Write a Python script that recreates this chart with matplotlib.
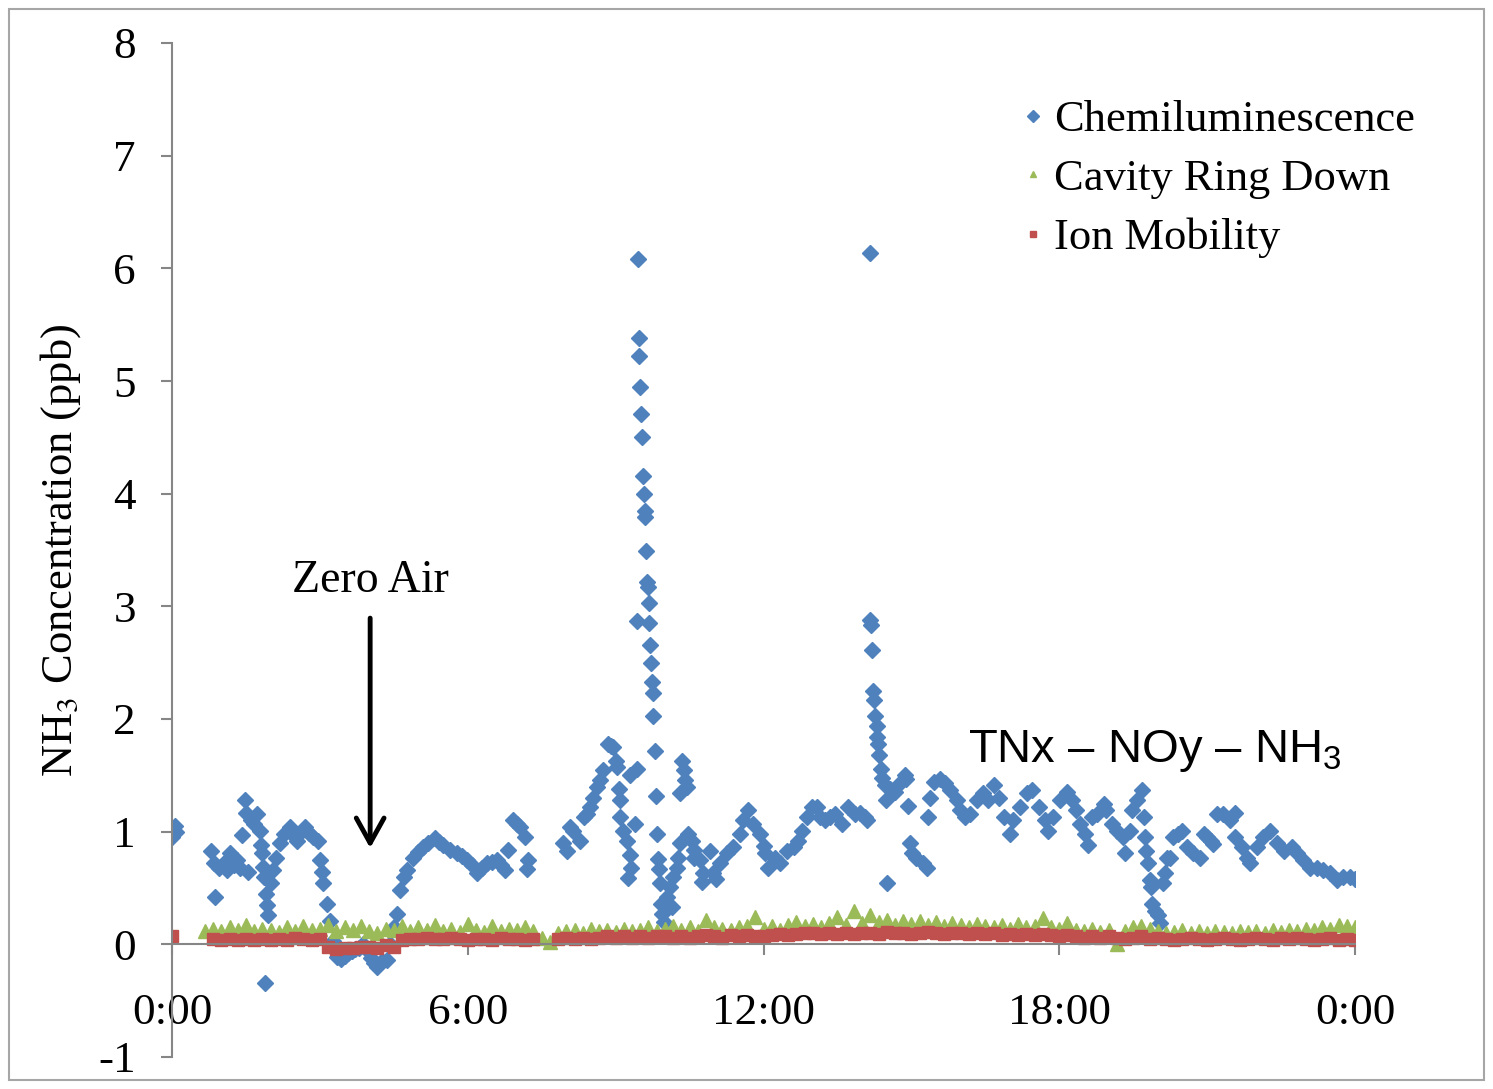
import numpy as np
import matplotlib
matplotlib.use("Agg")
import matplotlib.pyplot as plt
from matplotlib.lines import Line2D
from matplotlib.patches import Rectangle

plt.rcParams['font.family'] = ['Liberation Serif', 'DejaVu Serif']
plt.rcParams['axes.unicode_minus'] = False
plt.rcParams['mathtext.rm'] = 'Liberation Sans'

# Chemiluminescence (hours, ppb)
chem_hours = [0.00, 0.03, 0.06, 0.09,
              0.80, 0.85, 0.87, 0.95, 1.05, 1.12, 1.18, 1.25, 1.32, 1.38, 1.42, 1.48, 1.50, 1.54,
              1.60, 1.66, 1.72, 1.78, 1.80, 1.83, 1.85, 1.87, 1.89, 1.90, 1.92, 1.94,
              2.00, 2.05, 2.12, 2.19, 2.28, 2.39, 2.46, 2.53, 2.62, 2.70, 2.78, 2.86, 2.96,
              3.00, 3.04, 3.07, 3.14, 3.21, 3.27, 3.35, 3.43, 3.51, 3.58, 3.65, 3.72, 3.80, 3.88, 3.96,
              4.04, 4.10, 4.16, 4.26, 4.36, 4.42, 4.50, 4.56, 4.62, 4.70, 4.77, 4.89,
              5.00, 5.09, 5.20, 5.34, 5.42, 5.50, 5.64, 5.78, 5.88, 5.98,
              6.08, 6.18, 6.28, 6.39, 6.50, 6.60, 6.68, 6.76, 6.82, 6.92,
              7.00, 7.06, 7.16, 7.20, 7.23,
              7.94, 8.01, 8.08, 8.14, 8.28, 8.35, 8.42, 8.48, 8.55, 8.62, 8.68, 8.75, 8.85, 8.90, 8.95,
              9.00, 9.03, 9.06, 9.08, 9.09, 9.15, 9.23, 9.26, 9.29, 9.31, 9.30, 9.40, 9.43, 9.43,
              9.46, 9.47, 9.48, 9.50, 9.52, 9.54, 9.56, 9.58, 9.59, 9.60, 9.62, 9.64, 9.65, 9.67,
              9.68, 9.70, 9.72, 9.73, 9.75, 9.76, 9.80, 9.82, 9.84, 9.86, 9.88, 9.90, 9.92, 9.95, 9.98,
              10.04, 10.10, 10.14, 10.17, 10.24, 10.27, 10.31, 10.35, 10.38, 10.41, 10.45, 10.30,
              10.47, 10.55, 10.60, 10.58, 10.71, 10.78, 10.76, 10.92, 10.98,
              11.03, 11.12, 11.26, 11.38, 11.53, 11.59, 11.69, 11.79, 11.93,
              12.00, 12.03, 12.10, 12.24, 12.34, 12.48, 12.61, 12.71, 12.78, 12.88, 12.99,
              13.08, 13.15, 13.25, 13.35, 13.45, 13.60, 13.72, 13.86, 13.96,
              14.06, 14.10, 14.16, 14.17, 14.18, 14.20, 14.22, 14.24, 14.26, 14.30, 14.31, 14.32,
              14.35, 14.38, 14.41, 14.47, 14.48, 14.50, 14.57, 14.67, 14.77, 14.87, 14.90, 14.94, 14.98,
              15.02, 15.10, 15.24, 15.31, 15.34, 15.38, 15.45, 15.59, 15.69, 15.79, 15.93, 15.99,
              16.09, 16.19, 16.33, 16.46, 16.56, 16.67, 16.77, 16.87,
              17.00, 17.07, 17.20, 17.34, 17.45, 17.58, 17.71, 17.78, 17.88,
              18.02, 18.15, 18.26, 18.33, 18.43, 18.53, 18.59, 18.66, 18.77, 18.90, 18.95,
              19.07, 19.17, 19.30, 19.34, 19.44, 19.48, 19.58, 19.68, 19.71, 19.74, 19.77, 19.81,
              19.85, 19.87, 19.89, 19.95,
              20.01, 20.05, 20.11, 20.15, 20.19, 20.25, 20.31, 20.40, 20.49, 20.60, 20.72, 20.86, 20.93,
              21.00, 21.07, 21.12, 21.20, 21.33, 21.47, 21.57, 21.57, 21.71, 21.81, 21.87,
              22.02, 22.14, 22.28, 22.42, 22.55, 22.72, 22.83, 22.95,
              23.09, 23.23, 23.36, 23.50, 23.64, 23.76, 23.90, 24.00]
chem_ppb = [0.95, 1.02, 1.05, 1.00,
            0.83, 0.72, 0.42, 0.68, 0.72, 0.66, 0.81, 0.70, 0.75, 0.68, 0.97, 1.28, 1.17, 0.64,
            1.10, 1.07, 1.16, 1.01, 0.88, 0.81, 0.69, 0.60, -0.34, 0.45, 0.35, 0.26,
            0.54, 0.66, 0.77, 0.90, 0.98, 1.04, 0.97, 0.92, 1.00, 1.04, 0.99, 0.95, 0.92,
            0.75, 0.64, 0.54, 0.36, 0.21, 0.03, -0.11, -0.13, -0.10, -0.08, -0.06, -0.04, -0.03, 0.00, -0.05,
            -0.12, -0.17, -0.20, -0.15, -0.14, 0.00, 0.15, 0.27, 0.48, 0.60, 0.66, 0.77,
            0.82, 0.86, 0.90, 0.94, 0.91, 0.88, 0.84, 0.81, 0.78, 0.75,
            0.70, 0.63, 0.68, 0.72, 0.73, 0.75, 0.70, 0.66, 0.84, 1.10,
            1.07, 1.04, 0.95, 0.67, 0.75,
            0.90, 0.83, 1.04, 1.01, 0.92, 1.13, 1.16, 1.22, 1.30, 1.40, 1.46, 1.55, 1.78, 1.76, 1.75,
            1.63, 1.57, 1.38, 1.28, 1.13, 1.01, 0.92, 0.59, 0.79, 0.68, 1.50, 1.07, 1.56, 2.87,
            6.08, 5.38, 5.22, 4.95, 4.71, 4.50, 4.16, 4.00, 3.85, 3.79, 3.49, 3.22, 3.17, 3.03,
            2.85, 2.66, 2.50, 2.33, 2.23, 2.03, 1.72, 1.32, 0.98, 0.76, 0.67, 0.54, 0.36, 0.27, 0.20,
            0.42, 0.51, 0.33, 0.60, 0.68, 0.77, 0.90, 1.63, 1.55, 1.46, 1.40, 1.34,
            0.98, 0.92, 0.84, 0.77, 0.75, 0.63, 0.55, 0.83, 0.63,
            0.58, 0.72, 0.81, 0.86, 0.98, 1.10, 1.19, 1.07, 0.98,
            0.87, 0.81, 0.68, 0.77, 0.72, 0.83, 0.86, 0.92, 1.01, 1.13, 1.22,
            1.22, 1.13, 1.10, 1.13, 1.16, 1.07, 1.22, 1.16, 1.17,
            1.13, 1.10, 6.14, 2.88, 2.83, 2.61, 2.25, 2.17, 2.03, 1.94, 1.84, 1.78,
            1.68, 1.56, 1.48, 1.41, 1.28, 0.54, 1.38, 1.35, 1.43, 1.50, 1.47, 1.23, 0.90,
            0.81, 0.77, 0.72, 0.68, 1.13, 1.30, 1.44, 1.47, 1.43, 1.37, 1.28, 1.19,
            1.13, 1.16, 1.28, 1.34, 1.28, 1.41, 1.30, 1.13,
            0.98, 1.10, 1.22, 1.34, 1.37, 1.22, 1.10, 1.01, 1.13,
            1.28, 1.35, 1.28, 1.19, 1.07, 0.98, 0.88, 1.13, 1.16, 1.25, 1.19,
            1.07, 1.01, 0.95, 0.81, 1.01, 1.19, 1.28, 1.37, 1.13, 0.95, 0.83, 0.72,
            0.57, 0.51, 0.36, 0.30,
            0.26, 0.19, 0.54, 0.63, 0.77, 0.77, 0.95, 0.98, 1.01, 0.86, 0.81, 0.77, 0.98,
            0.95, 0.92, 0.89, 1.16, 1.16, 1.10, 1.17, 0.95, 0.86, 0.77, 0.72,
            0.86, 0.95, 1.01, 0.90, 0.83, 0.86, 0.81, 0.75,
            0.68, 0.68, 0.66, 0.63, 0.57, 0.60, 0.60, 0.58]

# Cavity Ring Down and Ion Mobility, one value every 10 minutes (nan = no data)
grid_minutes = np.arange(0, 1441, 10)
nan = np.nan
crd_ppb = [nan, nan, nan, nan, 0.12, 0.14,      # 0h
           0.12, 0.15, 0.13, 0.17, 0.12, 0.14,  # 1h
           0.13, 0.11, 0.15, 0.12, 0.16, 0.13,  # 2h
           0.14, 0.17, 0.12, 0.15, 0.13, 0.16,  # 3h
           0.12, 0.10, 0.14, 0.13, 0.16, 0.12,  # 4h
           0.15, 0.13, 0.17, 0.12, 0.14, 0.11,  # 5h
           0.18, 0.13, 0.11, 0.16, 0.12, 0.14,  # 6h
           0.13, 0.15, 0.12, 0.06, 0.02, 0.10,  # 7h
           0.12, 0.13, 0.10, 0.14, 0.12, 0.13,  # 8h
           0.11, 0.14, 0.12, 0.13, 0.15, 0.12,  # 9h
           0.14, 0.16, 0.13, 0.15, 0.12, 0.22,  # 10h
           0.15, 0.14, 0.13, 0.15, 0.16, 0.24,  # 11h
           0.14, 0.16, 0.13, 0.17, 0.20, 0.16,  # 12h
           0.18, 0.15, 0.19, 0.24, 0.17, 0.30,  # 13h
           0.19, 0.26, 0.20, 0.22, 0.17, 0.21,  # 14h
           0.18, 0.21, 0.17, 0.20, 0.16, 0.19,  # 15h
           0.17, 0.15, 0.18, 0.16, 0.15, 0.17,  # 16h
           0.14, 0.18, 0.15, 0.16, 0.23, 0.15,  # 17h
           0.14, 0.19, 0.13, 0.12, 0.14, 0.11,  # 18h
           0.13, 0.00, 0.12, 0.15, 0.16, 0.14,  # 19h
           0.12, 0.10, 0.11, 0.13, 0.10, 0.12,  # 20h
           0.10, 0.12, 0.11, 0.10, 0.12, 0.11,  # 21h
           0.12, 0.10, 0.13, 0.11, 0.13, 0.12,  # 22h
           0.14, 0.13, 0.15, 0.14, 0.17, 0.16,  # 23h
           0.15]
ims_ppb = [0.07, nan, nan, nan, nan, 0.05,      # 0h
           0.04, 0.05, 0.04, 0.05, 0.04, 0.05,  # 1h
           0.04, 0.05, 0.04, 0.06, 0.05, 0.04,  # 2h
           0.05, -0.02, -0.04, -0.03, -0.03, -0.02,  # 3h
           -0.02, -0.03, -0.01, -0.02, 0.04, 0.05,   # 4h
           0.05, 0.06, 0.05, 0.05, 0.06, 0.05,  # 5h
           0.04, 0.05, 0.05, 0.04, 0.06, 0.05,  # 6h
           0.05, 0.04, 0.05, nan, nan, 0.05,    # 7h
           0.06, 0.05, 0.06, 0.05, 0.06, 0.07,  # 8h
           0.06, 0.07, 0.06, 0.07, 0.06, 0.07,  # 9h
           0.07, 0.06, 0.07, 0.06, 0.07, 0.08,  # 10h
           0.07, 0.06, 0.08, 0.07, 0.08, 0.07,  # 11h
           0.07, 0.08, 0.09, 0.08, 0.09, 0.10,  # 12h
           0.10, 0.09, 0.10, 0.09, 0.10, 0.09,  # 13h
           0.10, 0.10, 0.09, 0.11, 0.10, 0.10,  # 14h
           0.09, 0.10, 0.11, 0.10, 0.09, 0.10,  # 15h
           0.10, 0.09, 0.10, 0.09, 0.10, 0.08,  # 16h
           0.09, 0.08, 0.09, 0.08, 0.09, 0.08,  # 17h
           0.07, 0.08, 0.07, 0.06, 0.07, 0.06,  # 18h
           0.07, 0.06, 0.05, 0.06, 0.07, 0.05,  # 19h
           0.06, 0.05, 0.04, 0.05, 0.06, 0.05,  # 20h
           0.04, 0.05, 0.06, 0.05, 0.04, 0.05,  # 21h
           0.06, 0.05, 0.04, 0.06, 0.05, 0.06,  # 22h
           0.05, 0.04, 0.05, 0.06, 0.04, 0.05,  # 23h
           0.04]

tick_hours = [0, 6, 12, 18, 24]
tick_labels = ['0:00', '6:00', '12:00', '18:00', '0:00']
series_names = ['Chemiluminescence', 'Cavity Ring Down', 'Ion Mobility']

blue, green, red = '#4F81BD', '#9BBB59', '#C0504D'
gray = '#868686'

fig = plt.figure(figsize=(14.93, 10.89), dpi=100)
ax = fig.add_axes([172 / 1493, 32 / 1089, 1183 / 1493, 1014 / 1089])

grid_hours = grid_minutes / 60.0
ax.plot(chem_hours, chem_ppb, ls='none', marker='D', ms=8, color=blue, mec=blue)
ax.plot(grid_hours, crd_ppb, ls='none', marker='^', ms=10, color=green, mec=green)
ax.plot(grid_hours, ims_ppb, ls='none', marker='s', ms=8, color=red, mec=red)

ax.set_xlim(0, 24)
ax.set_ylim(-1, 8)
ax.set_xticks(tick_hours)
ax.set_xticklabels(tick_labels)
ax.set_yticks(range(-1, 9))

for s in ['top', 'right']:
    ax.spines[s].set_visible(False)
ax.spines['bottom'].set_position(('data', 0))
for s in ['left', 'bottom']:
    ax.spines[s].set_color(gray)
    ax.spines[s].set_linewidth(1.5)
ax.tick_params(axis='both', colors=gray, labelcolor='black', labelsize=32.5, width=1.5, length=8)
ax.tick_params(axis='x', direction='out', pad=27)
ax.tick_params(axis='y', direction='out', pad=18)

ax.set_ylabel('NH$_3$ Concentration (ppb)', fontsize=32, math_fontfamily='stix')
ax.yaxis.set_label_coords(-0.075, 0.5)

ax.text(4.02, 3.23, 'Zero Air', fontsize=33, ha='center', va='center')
ax.annotate('', xy=(4.02, 0.83), xytext=(4.02, 2.92),
            arrowprops=dict(arrowstyle='->, head_length=0.9, head_width=0.5',
                            lw=3.5, color='black', mutation_scale=20))
ax.text(16.15, 1.72, r'TNx – NOy – NH$_\mathrm{3}$', fontsize=34, family='Liberation Sans',
        math_fontfamily='custom', ha='left', va='center')

handles = [Line2D([], [], ls='none', marker='D', ms=6, color=blue),
           Line2D([], [], ls='none', marker='^', ms=4, color=green),
           Line2D([], [], ls='none', marker='s', ms=4.5, color=red)]
ax.legend(handles, series_names, loc='upper left', bbox_to_anchor=(1022 / 1493, 1 - 100 / 1089),
          bbox_transform=fig.transFigure, frameon=False, fontsize=32,
          handlelength=0.5, handletextpad=0.23, labelspacing=0.42, borderpad=0, borderaxespad=0)

fig.add_artist(Rectangle((9 / 1493, 9 / 1089), 1475 / 1493, 1071 / 1089, transform=fig.transFigure,
                         fill=False, ec='#A6A6A6', lw=1.5))

fig.savefig('out.png', dpi=100)
